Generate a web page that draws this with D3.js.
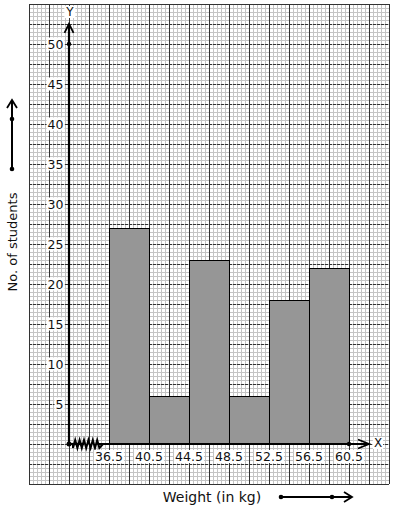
<!DOCTYPE html>
<html><head><meta charset="utf-8">
<script src="https://cdn.jsdelivr.net/npm/d3@7"></script>
<style>body{margin:0;background:#fff}svg{display:block}text{font-family:"DejaVu Sans",sans-serif}</style>
</head><body>
<script>
const classStarts = [36.5, 40.5, 44.5, 48.5, 52.5, 56.5];
const classWidth = 4;
const students = [27, 6, 23, 6, 18, 22];
const xTickLabels = ["36.5", "40.5", "44.5", "48.5", "52.5", "56.5", "60.5"];
const yTickValues = [5, 10, 15, 20, 25, 30, 35, 40, 45, 50];

const W = 394, H = 510;
const svg = d3.select("body").append("svg").attr("width", W).attr("height", H);

const x = d3.scaleLinear().domain([28.5, 64.5]).range([29, 389]);
const y = d3.scaleLinear().domain([-5, 55]).range([484, 4]);

// graph paper
const g = svg.append("g");
const minorX = d3.range(0, 91).map(i => 28.5 + i * 0.4);
const minorY = d3.range(0, 121).map(i => -5 + i * 0.5);
g.selectAll(".mx").data(minorX).join("line")
  .attr("x1", d => Math.round(x(d)) + 0.5).attr("x2", d => Math.round(x(d)) + 0.5)
  .attr("y1", y(55)).attr("y2", y(-5)).attr("stroke", "#c4c4c4").attr("stroke-width", 1);
g.selectAll(".my").data(minorY).join("line")
  .attr("y1", d => Math.round(y(d)) + 0.5).attr("y2", d => Math.round(y(d)) + 0.5)
  .attr("x1", x(28.5)).attr("x2", x(64.5)).attr("stroke", "#c4c4c4").attr("stroke-width", 1);
const majorX = d3.range(0, 19).map(i => 28.5 + i * 2);
const majorY = d3.range(0, 25).map(i => -5 + i * 2.5);
g.selectAll(".Mx").data(majorX).join("line")
  .attr("x1", d => Math.round(x(d)) + 0.5).attr("x2", d => Math.round(x(d)) + 0.5)
  .attr("y1", y(55)).attr("y2", y(-5)).attr("stroke", "#333").attr("stroke-width", 1);
g.selectAll(".My").data(majorY).join("line")
  .attr("y1", d => Math.round(y(d)) + 0.5).attr("y2", d => Math.round(y(d)) + 0.5)
  .attr("x1", x(28.5)).attr("x2", x(64.5)).attr("stroke", "#333").attr("stroke-width", 1)
  .attr("stroke-dasharray", (d, i) => (i === 0 || i === 24) ? null : "3,1");

// bars
svg.selectAll(".bar").data(classStarts).join("rect")
  .attr("x", d => x(d) + 0.5).attr("width", d => x(d + classWidth) - x(d))
  .attr("y", (d, i) => y(students[i]) + 0.5).attr("height", (d, i) => y(0) - y(students[i]))
  .attr("fill", "#969696").attr("stroke", "#000").attr("stroke-width", 1);

// axes
const ox = x(32.5), oy = y(0);
svg.append("line").attr("x1", ox).attr("x2", ox).attr("y1", oy).attr("y2", y(52.4))
  .attr("stroke", "#000").attr("stroke-width", 2.2);
svg.append("path").attr("d", `M${ox-4.5},${y(51.4)}L${ox},${y(52.4)-1}L${ox+4.5},${y(51.4)}`)
  .attr("fill", "none").attr("stroke", "#000").attr("stroke-width", 1.8);
svg.append("line").attr("x1", ox).attr("x2", x(34)).attr("y1", oy).attr("y2", oy)
  .attr("stroke", "#000").attr("stroke-width", 2.2);
svg.append("line").attr("x1", x(35.5)).attr("x2", x(62.4)).attr("y1", oy).attr("y2", oy)
  .attr("stroke", "#000").attr("stroke-width", 2.2);
// zigzag
const zz = d3.range(0, 13).map(i => [x(32.9) + i * 2.2, oy + (i % 2 ? -4 : 4)]);
zz.unshift([x(32.9), oy]);
zz.push([x(35.9), oy]);
svg.append("path").attr("d", d3.line()(zz)).attr("fill", "none").attr("stroke", "#000").attr("stroke-width", 2);
svg.append("path").attr("d", `M${x(61.4)},${oy-4.5}L${x(62.4)+1},${oy}L${x(61.4)},${oy+4.5}`)
  .attr("fill", "none").attr("stroke", "#000").attr("stroke-width", 1.8);
svg.append("circle").attr("cx", ox).attr("cy", oy).attr("r", 2.5).attr("fill", "#000");
svg.append("circle").attr("cx", ox).attr("cy", y(50)).attr("r", 2.2).attr("fill", "#000");
svg.append("circle").attr("cx", x(60.5)).attr("cy", oy).attr("r", 2.2).attr("fill", "#000");

function labelWithBg(parent, tx, ty, str, anchor, size) {
  const t = parent.append("text").attr("x", tx).attr("y", ty).attr("text-anchor", anchor)
    .attr("dominant-baseline", "central").attr("font-size", size).attr("fill", "#111").text(str);
  const b = t.node().getBBox();
  parent.insert("rect", () => t.node()).attr("x", b.x - 1).attr("y", b.y + 1)
    .attr("width", b.width + 2).attr("height", b.height - 2).attr("fill", "#fff");
}
const lab = svg.append("g");
yTickValues.forEach(v => labelWithBg(lab, x(32.5) - 5.5, y(v), String(v), "end", 12.5));
xTickLabels.forEach((s, i) => labelWithBg(lab, x(36.5 + i * 4), oy + 12.5, s, "middle", 12.5));
labelWithBg(lab, x(32.5) + 1, 12, "Y", "middle", 12);
labelWithBg(lab, x(63.5) - 1, oy - 1, "X", "middle", 12);

// titles
svg.append("text").attr("transform", "translate(12,242) rotate(-90)").attr("text-anchor", "middle")
  .attr("dominant-baseline", "central").attr("font-size", 13).attr("fill", "#111").text("No. of students");
svg.append("text").attr("x", 212).attr("y", 497).attr("text-anchor", "middle")
  .attr("dominant-baseline", "central").attr("font-size", 14).attr("fill", "#111").text("Weight (in kg)");

// decorative arrows
svg.append("line").attr("x1", 12).attr("x2", 12).attr("y1", 169).attr("y2", 101).attr("stroke", "#000").attr("stroke-width", 2);
svg.append("path").attr("d", "M7,108L12,100L17,108").attr("fill", "none").attr("stroke", "#000").attr("stroke-width", 1.8);
svg.append("circle").attr("cx", 12).attr("cy", 169).attr("r", 2.3);
svg.append("circle").attr("cx", 12).attr("cy", 119).attr("r", 2.3);
svg.append("line").attr("x1", 281).attr("x2", 351).attr("y1", 497).attr("y2", 497).attr("stroke", "#000").attr("stroke-width", 2);
svg.append("path").attr("d", "M344,492L352,497L344,502").attr("fill", "none").attr("stroke", "#000").attr("stroke-width", 1.8);
svg.append("circle").attr("cx", 281).attr("cy", 497).attr("r", 2.3);
svg.append("circle").attr("cx", 332).attr("cy", 497).attr("r", 2.3);
</script>
</body></html>
